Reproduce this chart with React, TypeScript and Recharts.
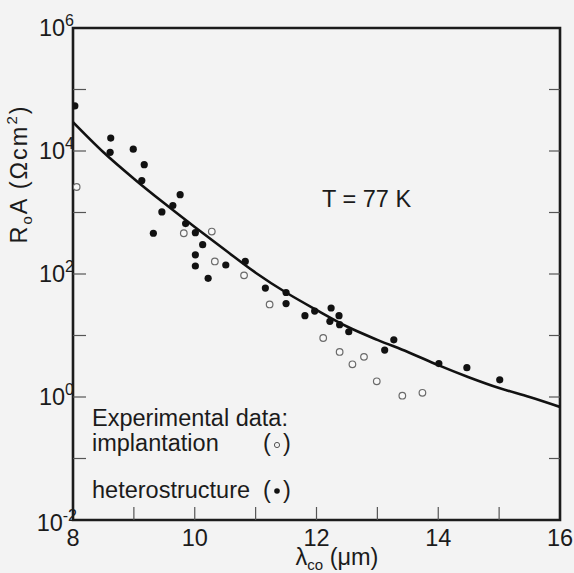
import React from 'react';
import { ComposedChart, Line, Scatter, XAxis, YAxis, ReferenceArea } from 'recharts';

// heterostructure (filled dots)
const heteroX = [8.03, 8.62, 8.61, 8.99, 9.17, 9.13, 9.76, 9.64, 9.46, 9.32, 9.85, 10.01, 10.13, 10.01, 10.01, 10.22, 10.51, 10.83, 11.16, 11.5, 11.5, 11.81, 11.97, 12.24, 12.37, 12.22, 12.38, 12.53, 13.12, 13.27, 14.01, 14.47, 15.01];
const heteroY = [54000, 16200, 9500, 10700, 6000, 3300, 1950, 1300, 1020, 460, 660, 470, 300, 205, 135, 85, 140, 160, 59, 50, 33, 21, 25, 28, 21, 17, 15, 11.5, 5.8, 8.5, 3.5, 3.0, 1.9];
// implantation (open circles)
const implantX = [8.06, 9.82, 10.28, 10.33, 10.81, 11.23, 12.11, 12.38, 12.59, 12.78, 12.99, 13.41, 13.74];
const implantY = [2600, 460, 490, 160, 95, 32, 9.1, 5.4, 3.4, 4.5, 1.8, 1.05, 1.17];
// theoretical curve
const fitX = [8, 8.5, 9, 9.5, 10, 10.5, 11, 11.5, 12, 12.5, 13, 13.5, 14, 14.5, 15, 15.5, 16];
const fitY = [29500, 9550, 3550, 1410, 580, 245, 105, 50, 26, 14, 8.5, 5.4, 3.3, 2.1, 1.4, 1.0, 0.69];

const xTicks = [8, 9, 10, 11, 12, 13, 14, 15, 16];
const xTickLabels = ['8', '', '10', '', '12', '', '14', '', '16'];
const yTicks = [0.01, 0.1, 1, 10, 100, 1000, 10000, 100000, 1000000];
const yTickExps = ['-2', '', '0', '', '2', '', '4', '', '6'];

const heteroData = heteroX.map((x, i) => ({ x, y: heteroY[i] }));
const implantData = implantX.map((x, i) => ({ x, y: implantY[i] }));
const fitData = fitX.map((x, i) => ({ x, y: fitY[i] }));

const FONT = '"Liberation Sans", Arial, Helvetica, sans-serif';
const INK = '#1b1b1b';
const FS = 23.5;

const findY = (v: number) => yTicks.findIndex((t) => Math.abs(t - v) < t * 1e-6);

const renderXTick = (props: any) => {
  const { x, y, payload } = props;
  const i = xTicks.indexOf(payload.value);
  const label = xTickLabels[i];
  const edge = i === 0 || i === xTicks.length - 1;
  return (
    <g key={`xt-${i}`}>
      {!edge && <line x1={x} x2={x} y1={y} y2={y - 13} stroke="#555" strokeWidth={1.2} />}
      {label && (
        <text x={x} y={y + 26} textAnchor="middle" fontSize={FS} fontFamily={FONT} fill={INK}>
          {label}
        </text>
      )}
    </g>
  );
};

const renderYTickLeft = (props: any) => {
  const { x, y, payload } = props;
  const i = findY(payload.value);
  const exp = yTickExps[i];
  const edge = i === 0 || i === yTicks.length - 1;
  const dy = i === 0 ? 11 : 8;
  return (
    <g key={`yl-${i}`}>
      {!edge && <line x1={x} x2={x + 13} y1={y} y2={y} stroke="#555" strokeWidth={1.2} />}
      {exp && (
        <text x={x + (i === 0 ? 4 : 1)} y={y + dy} textAnchor="end" fontSize={FS} fontFamily={FONT} fill={INK}>
          10
          <tspan fontSize={16} dy={-10}>{exp}</tspan>
        </text>
      )}
    </g>
  );
};

const renderYTickRight = (props: any) => {
  const { x, y, payload } = props;
  const i = findY(payload.value);
  const edge = i === 0 || i === yTicks.length - 1;
  if (edge) return <g key={`yr-${i}`} />;
  return <line key={`yr-${i}`} x1={x} x2={x - 11} y1={y} y2={y} stroke="#555" strokeWidth={1.2} />;
};

const FilledDot = (props: any) => <circle cx={props.cx} cy={props.cy} r={3.6} fill="#111" />;
const OpenDot = (props: any) => (
  <circle cx={props.cx} cy={props.cy} r={3.3} fill="#f8f8f8" stroke="#6a6a6a" strokeWidth={1.2} />
);

export default function App() {
  return (
    <div style={{ position: 'absolute', left: 0, top: 0, width: 574, height: 573, background: '#f3f3f3' }}>
      <ComposedChart width={574} height={573} margin={{ top: 28, right: 13, bottom: 52, left: 72 }}>
        <XAxis
          type="number"
          dataKey="x"
          domain={[8, 16]}
          ticks={xTicks}
          height={1}
          axisLine={false}
          tickLine={false}
          tickSize={0}
          tickMargin={0}
          tick={renderXTick}
          interval={0}
          allowDataOverflow
        />
        <YAxis
          yAxisId="left"
          type="number"
          dataKey="y"
          scale="log"
          domain={[0.01, 1000000]}
          ticks={yTicks}
          width={1}
          axisLine={false}
          tickLine={false}
          tickSize={0}
          tickMargin={0}
          tick={renderYTickLeft}
          interval={0}
          allowDataOverflow
        />
        <YAxis
          yAxisId="right"
          orientation="right"
          type="number"
          scale="log"
          domain={[0.01, 1000000]}
          ticks={yTicks}
          width={1}
          axisLine={false}
          tickLine={false}
          tickSize={0}
          tickMargin={0}
          tick={renderYTickRight}
          interval={0}
          allowDataOverflow
        />
        <ReferenceArea
          yAxisId="left"
          x1={8}
          x2={16}
          y1={0.01}
          y2={1000000}
          fill="none"
          fillOpacity={0}
          stroke={INK}
          strokeWidth={2.6}
          ifOverflow="visible"
        />
        <Line
          yAxisId="left"
          data={fitData}
          dataKey="y"
          type="monotone"
          dot={false}
          stroke="#111"
          strokeWidth={2.6}
          isAnimationActive={false}
        />
        <Scatter yAxisId="left" data={implantData} dataKey="y" shape={<OpenDot />} isAnimationActive={false} />
        <Scatter yAxisId="left" data={heteroData} dataKey="y" shape={<FilledDot />} isAnimationActive={false} />
      </ComposedChart>
      <svg
        width={574}
        height={573}
        style={{ position: 'absolute', left: 0, top: 0, pointerEvents: 'none' }}
        fontFamily={FONT}
        fill={INK}
      >
        <text transform="translate(27,174) rotate(-90)" textAnchor="middle" fontSize={FS} letterSpacing={2}>
          R<tspan fontSize={15} dy={5}>o</tspan>
          <tspan dy={-5}>A (Ωcm</tspan>
          <tspan fontSize={15} dy={-10}>2</tspan>
          <tspan dy={10}>)</tspan>
        </text>
        <text x={337} y={565} textAnchor="middle" fontSize={FS}>
          λ<tspan fontSize={15} dy={5}>co</tspan>
          <tspan dy={-5}> (μm)</tspan>
        </text>
        <text x={322} y={207} fontSize={FS}>T = 77 K</text>
        <text x={92} y={426} fontSize={FS}>Experimental data:</text>
        <text x={92} y={451} fontSize={FS}>implantation</text>
        <text x={263} y={451} fontSize={FS}>(</text>
        <circle cx={277} cy={445} r={2.6} fill="none" stroke="#555" strokeWidth={1} />
        <text x={283} y={451} fontSize={FS}>)</text>
        <text x={92} y={498} fontSize={FS}>heterostructure</text>
        <text x={263} y={498} fontSize={FS}>(</text>
        <circle cx={277} cy={491} r={2.8} fill="#111" />
        <text x={283} y={498} fontSize={FS}>)</text>
      </svg>
    </div>
  );
}
